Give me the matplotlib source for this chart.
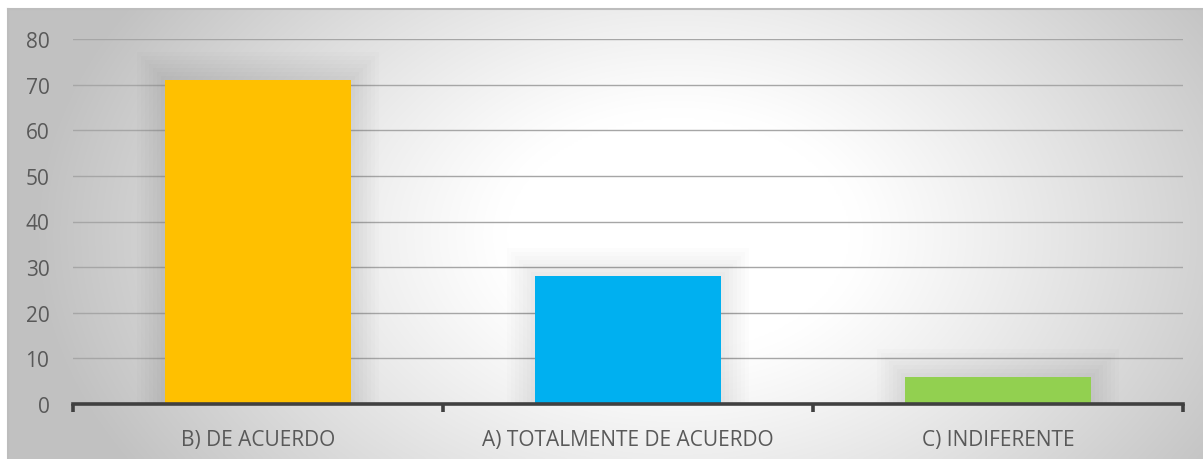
import numpy as np
import matplotlib
matplotlib.use("Agg")
import matplotlib.pyplot as plt
from matplotlib.patches import Rectangle

categories = ["B) DE ACUERDO", "A) TOTALMENTE DE ACUERDO", "C) INDIFERENTE"]
values = [71, 28, 6]
colors = ["#FFC000", "#00B0F0", "#92D050"]
yticks = [0, 10, 20, 30, 40, 50, 60, 70, 80]

W, H, DPI = 1203, 460, 100
fig = plt.figure(figsize=(W / DPI, H / DPI), dpi=DPI)
fig.patch.set_facecolor("white")

# Chart frame with radial gradient fill
bg = fig.add_axes([8 / W, 0, (W - 8) / W, (H - 10) / H], zorder=0)
ny, nx = 225, 600
yy, xx = np.mgrid[0:ny, 0:nx]
cx, cy = nx * 0.56, ny * 0.50
r = np.sqrt(((xx - cx) / (nx * 0.52)) ** 2 + ((yy - cy) / (ny * 0.95)) ** 2)
shade = 1.0 - 0.24 * np.clip((r - 0.28) / 0.75, 0, 1) ** 1.1
bg.imshow(np.dstack([shade] * 3), aspect="auto", extent=[0, 1, 0, 1],
          interpolation="bicubic")
bg.set_xlim(0, 1)
bg.set_ylim(0, 1)
bg.set_xticks([])
bg.set_yticks([])
for s in ["left", "top"]:
    bg.spines[s].set_color("#bdbdbd")
    bg.spines[s].set_linewidth(1.5)
for s in ["right", "bottom"]:
    bg.spines[s].set_visible(False)

# Plot area
x0, x1 = 73, 1183
ytop, ybot = 40, 405
ax = fig.add_axes([x0 / W, (H - ybot) / H, (x1 - x0) / W, (ybot - ytop) / H], zorder=1)
ax.patch.set_alpha(0)
ax.set_xlim(-0.5, len(categories) - 0.5)
ax.set_ylim(0, 80)

px_x = (len(categories)) / (x1 - x0)
px_y = 80 / (ybot - ytop)

ax.set_yticks(yticks)
ax.yaxis.grid(True, color="#a6a6a6", linewidth=1.0, zorder=0)
ax.set_axisbelow(True)

bar_w = 0.503
xpos = np.arange(len(categories))

# soft glow behind the bars
for xi, v in zip(xpos, values):
    for k in range(1, 8):
        e = k * 4.0
        ax.add_patch(Rectangle((xi - bar_w / 2 - e * px_x, 0),
                               bar_w + 2 * e * px_x, v + e * px_y,
                               facecolor="#000000", alpha=0.011,
                               edgecolor="none", zorder=1))

ax.bar(xpos, values, width=bar_w, color=colors, zorder=3)

for s in ["left", "top", "right"]:
    ax.spines[s].set_visible(False)
ax.spines["bottom"].set_color("#404040")
ax.spines["bottom"].set_linewidth(2.6)
ax.spines["bottom"].set_zorder(4)

ax.set_xticks(np.arange(-0.5, len(categories)), minor=False)
ax.set_xticklabels([])
ax.tick_params(axis="x", which="major", length=6, width=2.6, color="#404040", direction="out")
ax.set_xticks(xpos, minor=True)
ax.set_xticklabels(categories, minor=True)
ax.tick_params(axis="x", which="minor", length=0, pad=18, labelsize=15, labelcolor="#595959")
ax.tick_params(axis="y", length=0, pad=17, labelsize=15, labelcolor="#595959")
for lab in ax.get_xticklabels(minor=True) + ax.get_yticklabels():
    lab.set_fontfamily("Open Sans")

fig.savefig("out.png", dpi=DPI)
